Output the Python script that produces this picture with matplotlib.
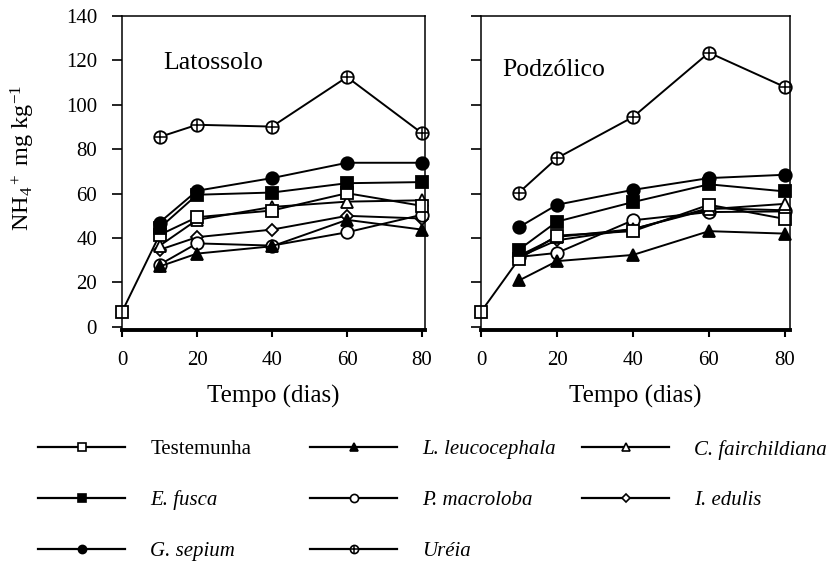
import matplotlib.pyplot as plt
from matplotlib.lines import Line2D

plt.rcParams['font.family'] = ['Liberation Serif', 'DejaVu Serif']
plt.rcParams['mathtext.fontset'] = 'custom'
plt.rcParams['mathtext.rm'] = 'Liberation Serif'
plt.rcParams['mathtext.it'] = 'Liberation Serif:italic'

dias = [10, 20, 40, 60, 80]
inicio = 6.8  # valor no dia 0 (Testemunha)

# Latossolo
lat_testemunha = [41.4, 49.4, 52.4, 60.2, 54.5]
lat_leucocephala = [27.2, 33.0, 36.3, 48.2, 43.8]
lat_fairchildiana = [36.5, 48.2, 54.0, 56.4, 57.0]
lat_fusca = [44.5, 59.5, 60.5, 64.7, 65.2]
lat_macroloba = [28.0, 37.6, 36.6, 42.6, 50.5]
lat_edulis = [34.7, 40.4, 43.8, 50.0, 48.8]
lat_sepium = [47.0, 61.3, 67.0, 73.9, 73.9]
lat_ureia = [85.5, 91.0, 90.2, 112.5, 87.2]

# Podzólico
pod_testemunha = [30.6, 41.1, 43.1, 55.0, 48.6]
pod_leucocephala = [20.9, 29.6, 32.4, 43.1, 42.0]
pod_fairchildiana = [32.0, 40.5, 44.0, 53.0, 55.4]
pod_fusca = [34.8, 47.4, 56.2, 64.2, 61.0]
pod_macroloba = [31.5, 33.3, 48.0, 51.7, 52.0]
pod_edulis = [31.5, 39.0, 44.0, 53.5, 52.5]
pod_sepium = [44.9, 55.0, 61.7, 67.0, 68.5]
pod_ureia = [60.5, 76.0, 94.5, 123.5, 108.0]

estilos = {
    'Testemunha': dict(marker='s', mfc='white', ms=9),
    'L. leucocephala': dict(marker='^', mfc='black', ms=8),
    'C. fairchildiana': dict(marker='^', mfc='white', ms=8),
    'E. fusca': dict(marker='s', mfc='black', ms=9),
    'P. macroloba': dict(marker='o', mfc='white', ms=9),
    'I. edulis': dict(marker='D', mfc='white', ms=6),
    'G. sepium': dict(marker='o', mfc='black', ms=9),
    'Uréia': dict(marker='o', mfc='white', ms=9),
}

lat = {'Testemunha': lat_testemunha, 'L. leucocephala': lat_leucocephala,
       'C. fairchildiana': lat_fairchildiana, 'E. fusca': lat_fusca,
       'P. macroloba': lat_macroloba, 'I. edulis': lat_edulis,
       'G. sepium': lat_sepium, 'Uréia': lat_ureia}
pod = {'Testemunha': pod_testemunha, 'L. leucocephala': pod_leucocephala,
       'C. fairchildiana': pod_fairchildiana, 'E. fusca': pod_fusca,
       'P. macroloba': pod_macroloba, 'I. edulis': pod_edulis,
       'G. sepium': pod_sepium, 'Uréia': pod_ureia}

fig = plt.figure(figsize=(8.37, 5.61), dpi=100)
ax1 = fig.add_axes([0.1458, 0.4118, 0.362, 0.5597])
ax2 = fig.add_axes([0.5747, 0.4118, 0.369, 0.5597])


def desenha(ax, dados, titulo, xmax, tx, ty):
    ordem = ['I. edulis', 'P. macroloba', 'L. leucocephala', 'C. fairchildiana',
             'Testemunha', 'E. fusca', 'G. sepium', 'Uréia']
    for nome in ordem:
        x = dias
        y = dados[nome]
        if nome == 'Testemunha':
            x = [0] + dias
            y = [inicio] + dados[nome]
        ax.plot(x, y, color='black', lw=1.4, mec='black', mew=1.3,
                clip_on=False, **estilos[nome])
        if nome == 'Uréia':
            ax.plot(x, y, ls='none', marker='+', ms=8, mec='black', mew=1.1,
                    clip_on=False)
    ax.set_xlim(0, xmax)
    ax.set_ylim(-1.4, 140)
    ax.set_xticks([0, 20, 40, 60, 80])
    ax.set_yticks(range(0, 141, 20))
    ax.tick_params(axis='y', direction='out', length=7, width=1.2,
                   labelsize=15, pad=11)
    ax.tick_params(axis='x', direction='out', length=5, width=1.5,
                   labelsize=15, pad=10)
    for s in ['left', 'top', 'right']:
        ax.spines[s].set_linewidth(1.1)
    ax.spines['bottom'].set_linewidth(2.8)
    ax.set_xlabel('Tempo (dias)', fontsize=18, labelpad=11)
    ax.text(tx, ty, titulo, transform=ax.transAxes, fontsize=18.5,
            ha='left', va='center')


desenha(ax1, lat, 'Latossolo', 80.8, 0.135, 0.85)
desenha(ax2, pod, 'Podzólico', 81.3, 0.07, 0.828)
ax2.set_yticklabels([])
ax1.set_ylabel(r'NH$_4$$^+$ mg kg$^{-1}$', fontsize=17.5)
ax1.yaxis.set_label_coords(-0.28, 0.548)


def item(nome):
    h = Line2D([], [], color='black', lw=1.6, mec='black', mew=1.2,
               **{**estilos[nome], 'ms': estilos[nome]['ms'] * 0.65})
    if nome == 'Uréia':
        p = Line2D([], [], ls='none', marker='+', ms=6, mec='black', mew=1.1)
        return (h, p)
    return h


colunas = [['Testemunha', 'E. fusca', 'G. sepium'],
           ['L. leucocephala', 'P. macroloba', 'Uréia'],
           ['C. fairchildiana', 'I. edulis']]
xs = [0.0355, 0.3605, 0.6854]
for col, x0 in zip(colunas, xs):
    leg = fig.legend([item(n) for n in col], col, loc='upper left',
                     bbox_to_anchor=(x0, 0.231), frameon=False, fontsize=15,
                     handlelength=4.18, handletextpad=1.2, labelspacing=1.5,
                     borderaxespad=0)
    for t in leg.get_texts():
        if t.get_text() != 'Testemunha':
            t.set_style('italic')

fig.savefig('out.png', dpi=100)
